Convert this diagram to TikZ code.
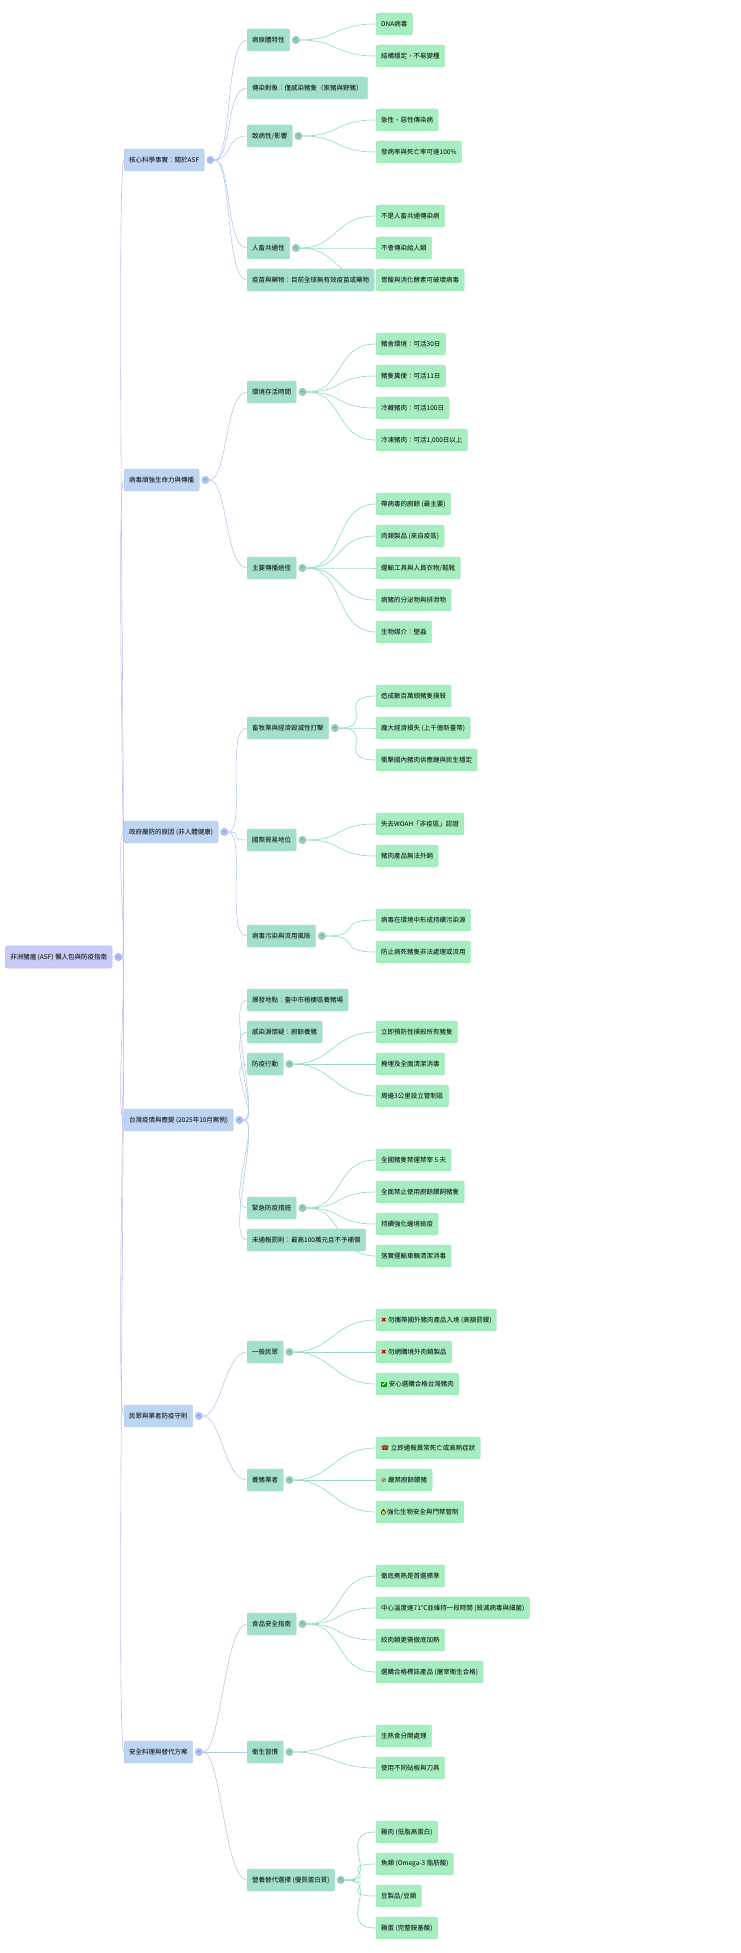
\documentclass[tikz,border=0pt]{standalone}
\usepackage{fontspec}
\setmainfont{Noto Sans CJK TC}
\newfontfamily\sym{DejaVu Sans}
\usepackage{tikz}
\pgfdeclarelayer{bg}
\pgfsetlayers{bg,main}
\definecolor{rootc}{HTML}{C7CBF5}
\definecolor{lonec}{HTML}{BDD5F1}
\definecolor{ltwoc}{HTML}{A3E0CC}
\definecolor{leafc}{HTML}{A6EEC0}
\definecolor{ezero}{HTML}{BFC2F3}
\definecolor{eone}{HTML}{B2CAEE}
\definecolor{etwo}{HTML}{98DEBE}
% level-2 node with its toggle, leaf hung from a toggle, level-2 node without toggle
\newcommand\branch[4]{%
  \node[ltwo] (#1) at (247,#3) {#4};
  \node[tog, fill=ltwoc!80!black!50!ltwoc] (#1c) at ([xshift=6pt]#1.east) {<};
  \begin{pgfonlayer}{bg}\draw[e1] (#2) to[hz=22pt] (#1.west);\end{pgfonlayer}}
\newcommand\bud[4]{%
  \node[ltwo] (#1) at (247,#3) {#4};
  \begin{pgfonlayer}{bg}\draw[e1] (#2) to[hz=22pt] (#1.west);\end{pgfonlayer}}
\newcommand\twig[4]{%
  \node[leaf] (#1) at (376,#3) {#4};
  \begin{pgfonlayer}{bg}\draw[e2] (#2) to[hz=42pt] (#1.west);\end{pgfonlayer}}
\newcommand\lock{\tikz[baseline=0pt]{\draw[line width=.6pt] (1pt,3.5pt) arc (180:0:1.1pt and 1.6pt); \fill[yellow!80!orange, draw=black, line width=.3pt] (0,0) rectangle (4.2pt,3.8pt);}}

\begin{document}
\begin{tikzpicture}[x=1pt, y=-1pt, font=\fontsize{6.5}{7.5}\selectfont,
  hz/.style={to path={.. controls ([xshift=#1]\tikztostart) and ([xshift=-#1]\tikztotarget) .. (\tikztotarget)}},
  box/.style={rectangle, rounded corners=2, anchor=west, minimum height=22pt, inner xsep=5pt},
  root/.style={box, fill=rootc, draw=rootc!80!blue!70!white, line width=0.6pt},
  lone/.style={box, fill=lonec, draw=lonec!90!blue, line width=0.4pt},
  ltwo/.style={box, fill=ltwoc, draw=ltwoc!95!black, line width=0.4pt},
  leaf/.style={box, fill=leafc, draw=leafc!95!black, line width=0.4pt},
  tog/.style={circle, inner sep=0pt, minimum size=8pt, font=\fontsize{4}{4}\selectfont, text=black!60},
  e0/.style={draw=ezero, line width=0.6pt},
  e1/.style={draw=eone, line width=0.6pt},
  e2/.style={draw=etwo, line width=0.7pt}]
\useasboundingbox (0,0) rectangle (740,1953);
% root
\node[root] (asf) at (5,957) {非洲豬瘟 (ASF) 懶人包與防疫指南};
\node[tog, fill=rootc!90!blue] (asfc) at ([xshift=6pt]asf.east) {<};
% level 1
\foreach \n/\y/\t in {core/160/{核心科學事實：關於ASF}, virus/480/{病毒頑強生命力與傳播}, gov/832/{政府嚴防的原因 (非人體健康)}, tw/1120/{台灣疫情與應變 (2025年10月案例)}, rule/1416/{民眾與業者防疫守則}, safe/1752/{安全料理與替代方案}} {
  \node[lone] (\n) at (124,\y) {\t};
  \node[tog, fill=lonec!90!blue] (\n c) at ([xshift=6pt]\n.east) {<};
  \begin{pgfonlayer}{bg}\draw[e0] (asfc) to[hz=9pt] (\n.west);\end{pgfonlayer}
}
% core facts
\branch{pat}{corec}{40}{病原體特性}
\twig{pat1}{patc}{24}{DNA病毒}
\twig{pat2}{patc}{56}{結構穩定，不易變種}
\bud{host}{corec}{88}{傳染對象：僅感染豬隻（家豬與野豬）}
\branch{harm}{corec}{136}{致病性/影響}
\twig{harm1}{harmc}{120}{急性、惡性傳染病}
\twig{harm2}{harmc}{152}{發病率與死亡率可達100\%}
\branch{zoo}{corec}{248}{人畜共通性}
\twig{zoo1}{zooc}{216}{不是人畜共通傳染病}
\twig{zoo2}{zooc}{248}{不會傳染給人類}
\twig{zoo3}{zooc}{280}{胃酸與消化酵素可破壞病毒}
\bud{vac}{corec}{280}{疫苗與藥物：目前全球無有效疫苗或藥物}
% survival and spread
\branch{live}{virusc}{392}{環境存活時間}
\twig{live1}{livec}{344}{豬舍環境：可活30日}
\twig{live2}{livec}{376}{豬隻糞便：可活11日}
\twig{live3}{livec}{408}{冷藏豬肉：可活100日}
\twig{live4}{livec}{440}{冷凍豬肉：可活1,000日以上}
\branch{route}{virusc}{568}{主要傳播途徑}
\twig{route1}{routec}{504}{帶病毒的廚餘 (最主要)}
\twig{route2}{routec}{536}{肉類製品 (來自疫區)}
\twig{route3}{routec}{568}{運輸工具與人員衣物/鞋靴}
\twig{route4}{routec}{600}{病豬的分泌物與排泄物}
\twig{route5}{routec}{632}{生物媒介：壁蝨}
% government reasons
\branch{econ}{govc}{728}{畜牧業與經濟毀滅性打擊}
\twig{econ1}{econc}{696}{造成數百萬頭豬隻撲殺}
\twig{econ2}{econc}{728}{龐大經濟損失 (上千億新臺幣)}
\twig{econ3}{econc}{760}{衝擊國內豬肉供應鏈與民生穩定}
\branch{trade}{govc}{840}{國際貿易地位}
\twig{trade1}{tradec}{824}{失去WOAH「非疫區」認證}
\twig{trade2}{tradec}{856}{豬肉產品無法外銷}
\branch{risk}{govc}{936}{病毒污染與流用風險}
\twig{risk1}{riskc}{920}{病毒在環境中形成持續污染源}
\twig{risk2}{riskc}{952}{防止病死豬隻非法處理或流用}
% Taiwan case
\bud{site}{twc}{1000}{爆發地點：臺中市梧棲區養豬場}
\bud{src}{twc}{1032}{感染源懷疑：廚餘養豬}
\branch{act}{twc}{1064}{防疫行動}
\twig{act1}{actc}{1032}{立即預防性撲殺所有豬隻}
\twig{act2}{actc}{1064}{掩埋及全面清潔消毒}
\twig{act3}{actc}{1096}{周邊3公里設立管制區}
\branch{urg}{twc}{1208}{緊急防疫措施}
\twig{urg1}{urgc}{1160}{全國豬隻禁運禁宰 5 天}
\twig{urg2}{urgc}{1192}{全面禁止使用廚餘餵飼豬隻}
\twig{urg3}{urgc}{1224}{持續強化邊境檢疫}
\twig{urg4}{urgc}{1256}{落實運輸車輛清潔消毒}
\bud{fine}{twc}{1240}{未通報罰則：最高100萬元且不予補償}
% rules
\branch{pub}{rulec}{1352}{一般民眾}
\twig{pub1}{pubc}{1320}{{\sym\textcolor{red!75!black}{✖}} 勿攜帶國外豬肉產品入境 (高額罰鍰)}
\twig{pub2}{pubc}{1352}{{\sym\textcolor{red!75!black}{✖}} 勿網購境外肉類製品}
\twig{pub3}{pubc}{1384}{{\setlength\fboxsep{0.4pt}\colorbox{green!60!black}{\sym\textcolor{white}{✔}}} 安心選購合格台灣豬肉}
\branch{farm}{rulec}{1480}{養豬業者}
\twig{farm1}{farmc}{1448}{{\sym\textcolor{red!60!black}{☎}} 立即通報異常死亡或高熱症狀}
\twig{farm2}{farmc}{1480}{{\sym\textcolor{red!75!black}{⊘}} 嚴禁廚餘餵豬}
\twig{farm3}{farmc}{1512}{\lock\ 強化生物安全與門禁管制}
% safe cooking
\branch{food}{safec}{1624}{食品安全指南}
\twig{food1}{foodc}{1576}{徹底煮熟是首選標準}
\twig{food2}{foodc}{1608}{中心溫度達71°C並維持一段時間 (殺滅病毒與細菌)}
\twig{food3}{foodc}{1640}{絞肉類更需徹底加熱}
\twig{food4}{foodc}{1672}{選購合格標誌產品 (屠宰衛生合格)}
\branch{hyg}{safec}{1752}{衛生習慣}
\twig{hyg1}{hygc}{1736}{生熟食分開處理}
\twig{hyg2}{hygc}{1768}{使用不同砧板與刀具}
\branch{alt}{safec}{1880}{營養替代選擇 (優質蛋白質)}
\twig{alt1}{altc}{1832}{雞肉 (低脂高蛋白)}
\twig{alt2}{altc}{1864}{魚類 (Omega-3 脂肪酸)}
\twig{alt3}{altc}{1896}{豆製品/豆類}
\twig{alt4}{altc}{1928}{雞蛋 (完整胺基酸)}
\end{tikzpicture}
\end{document}
